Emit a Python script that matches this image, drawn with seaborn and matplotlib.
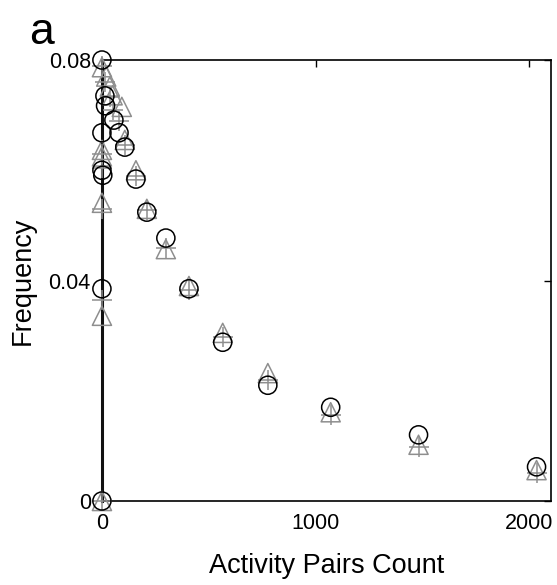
import numpy as np
import pandas as pd
import matplotlib
matplotlib.use("Agg")
import matplotlib.pyplot as plt
import seaborn as sns

# circles (black)
circ_x = [0, 14, 17, 56, 0, 80, 107, 0, 4, 159, 210, 299, 407, 565, 776, 1070, 1481, 2033, 0, 0]
circ_y = [0.0800, 0.0735, 0.0717, 0.0691, 0.0668, 0.0668, 0.0642, 0.0600, 0.0591, 0.0584,
          0.0524, 0.0477, 0.0385, 0.0288, 0.0210, 0.0170, 0.0120, 0.0062, 0.0385, 0.0]

# triangles (gray)
tri_x = [0, 20, 37, 50, 93, 107, 0, 0, 159, 0, 210, 299, 407, 565, 776, 1070, 1481, 2033, 0, 0]
tri_y = [0.0787, 0.0770, 0.0752, 0.0736, 0.0715, 0.0655, 0.0637, 0.0625, 0.0600, 0.0541,
         0.0530, 0.0457, 0.0390, 0.0305, 0.0232, 0.0161, 0.0102, 0.0056, 0.0336, 0.0]

# plus signs (gray)
plus_x = [0, 14, 37, 50, 80, 107, 0, 0, 159, 0, 210, 299, 407, 565, 776, 1070, 1481, 2033, 0, 0]
plus_y = [0.0790, 0.0760, 0.0733, 0.0710, 0.0690, 0.0645, 0.0630, 0.0605, 0.0590, 0.0530,
          0.0528, 0.0459, 0.0383, 0.0298, 0.0219, 0.0156, 0.0098, 0.0051, 0.0365, 0.0]

x_ticks = [0, 1000, 2000]
y_ticks = [0, 0.04, 0.08]
y_tick_labels = ["0", "0.04", "0.08"]

sns.set_style("white")
plt.rcParams['font.family'] = ['Liberation Sans', 'DejaVu Sans']
plt.rcParams['text.color'] = 'black'
plt.rcParams['axes.labelcolor'] = 'black'

fig = plt.figure(figsize=(5.57, 5.85), dpi=100)
ax = fig.add_axes([0.183, 0.1436, 0.806, 0.7538])

gray = "#8e8e8e"
sns.scatterplot(x=tri_x, y=tri_y, marker="^", s=190, facecolors="none",
                edgecolor=gray, linewidth=1.1, ax=ax, clip_on=False, zorder=3)
sns.scatterplot(x=plus_x, y=plus_y, marker="+", s=200, color=gray,
                linewidth=1.1, ax=ax, clip_on=False, zorder=3)
sns.scatterplot(x=circ_x, y=circ_y, marker="o", s=170, facecolors="none",
                edgecolor="black", linewidth=1.1, ax=ax, clip_on=False, zorder=4)

ax.set_xlim(0, 2100)
ax.set_ylim(0, 0.08)
ax.set_xticks(x_ticks)
ax.set_yticks(y_ticks)
ax.set_yticklabels(y_tick_labels)
ax.tick_params(direction="in", length=5, width=1, top=True, right=True,
               labelsize=15.5, pad=8, colors="black")
ax.tick_params(axis="x", pad=9)

for side in ["top", "right", "bottom"]:
    ax.spines[side].set_linewidth(1.2)
    ax.spines[side].set_color("black")
ax.spines["left"].set_linewidth(2.2)
ax.spines["left"].set_color("#111111")

ax.set_xlabel("Activity Pairs Count", fontsize=19.5, labelpad=13, color="black")
ax.set_ylabel("Frequency", fontsize=19.5, labelpad=9, color="black")

fig.text(0.052, 0.925, "a", fontsize=32, ha="left", va="baseline", color="black")

fig.savefig("out.png", dpi=100)
